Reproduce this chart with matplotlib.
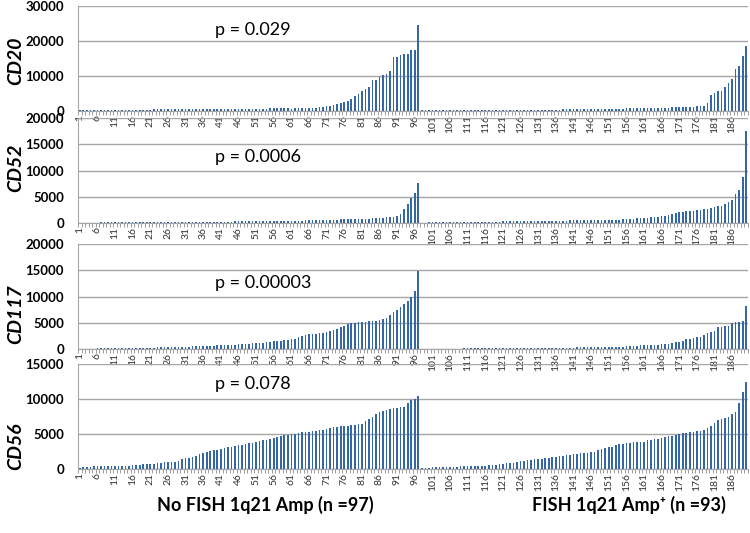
import numpy as np
import matplotlib
matplotlib.use("Agg")
import matplotlib.pyplot as plt

plt.rcParams['font.family'] = ['Lato', 'DejaVu Sans']

# tick labels shown on the category axis
tick_labels = [str(i) for i in range(1, 190, 5)]

# CD20
cd20_no = [250, 260, 270, 280, 290, 300, 300, 310, 320, 330,
           340, 350, 350, 360, 370, 380, 390, 400, 400, 410,
           420, 430, 440, 450, 450, 460, 470, 480, 490, 500,
           500, 510, 520, 530, 540, 550, 560, 570, 580, 590,
           600, 610, 620, 630, 640, 650, 660, 670, 680, 690,
           700, 700, 710, 710, 720, 720, 730, 730, 740, 750,
           700, 720, 750, 780, 820, 870, 920, 1000, 1100, 1200,
           1400, 1550, 1750, 2000, 2250, 2700, 3000, 3500, 4150, 4900,
           5600, 6300, 6900, 8800, 9000, 9800, 10400, 10700, 11400, 15300,
           15400, 16000, 16200, 16400, 17300, 17500, 24500]
cd20_amp = [200, 200, 210, 210, 220, 220, 230, 230, 240, 240,
            250, 250, 260, 260, 270, 270, 280, 280, 290, 290,
            300, 300, 310, 310, 320, 320, 330, 330, 340, 340,
            350, 350, 360, 360, 370, 380, 390, 400, 410, 420,
            430, 440, 450, 460, 470, 480, 490, 500, 520, 540,
            560, 580, 600, 620, 640, 660, 680, 700, 720, 740,
            760, 780, 800, 820, 840, 860, 880, 900, 930, 960,
            1000, 1020, 1050, 1080, 1100, 1150, 1200, 1250, 1350, 1400,
            1450, 2200, 4600, 5100, 5600, 5600, 7000, 8000, 9200, 12000,
            12800, 15700, 18600]

# CD52
cd52_no = [60, 70, 80, 80, 90, 90, 100, 100, 110, 110,
           120, 120, 130, 130, 140, 140, 150, 150, 160, 160,
           170, 170, 180, 180, 190, 190, 200, 200, 210, 210,
           220, 220, 230, 230, 240, 240, 250, 250, 260, 260,
           270, 270, 280, 280, 290, 290, 300, 300, 310, 320,
           330, 340, 350, 360, 370, 380, 390, 400, 410, 420,
           430, 440, 450, 460, 480, 500, 520, 540, 560, 580,
           600, 620, 640, 660, 680, 700, 720, 740, 760, 780,
           800, 820, 850, 880, 900, 950, 1000, 1050, 1100, 1200,
           1350, 1800, 2700, 3600, 4700, 5800, 7600]
cd52_amp = [80, 90, 100, 100, 110, 120, 120, 130, 140, 150,
            160, 170, 180, 190, 200, 210, 220, 230, 240, 250,
            260, 270, 280, 290, 300, 310, 320, 330, 340, 350,
            360, 370, 380, 390, 400, 410, 420, 430, 440, 450,
            460, 470, 480, 490, 500, 500, 510, 510, 520, 520,
            530, 540, 550, 570, 590, 620, 640, 700, 760, 790,
            820, 890, 950, 980, 1010, 1070, 1140, 1200, 1250, 1270,
            1460, 1780, 1970, 2050, 2150, 2200, 2280, 2350, 2400, 2540,
            2600, 2730, 2900, 3040, 3170, 3200, 3680, 4000, 4300, 5580,
            6200, 8750, 17500]

# CD117
cd117_no = [50, 60, 70, 80, 90, 100, 110, 120, 130, 140,
            150, 160, 170, 180, 190, 200, 210, 220, 230, 240,
            250, 270, 290, 310, 330, 350, 370, 390, 410, 430,
            450, 470, 490, 510, 530, 560, 590, 620, 650, 680,
            710, 740, 770, 800, 830, 870, 910, 950, 1000, 1050,
            1100, 1150, 1200, 1280, 1360, 1440, 1520, 1600, 1700, 1800,
            1900, 2000, 2200, 2400, 2600, 2800, 2850, 2900, 3000, 3100,
            3300, 3500, 3700, 3900, 4100, 4400, 4700, 4900, 5000, 5100,
            5150, 5200, 5250, 5300, 5400, 5500, 5700, 6000, 6400, 7000,
            7500, 8000, 8500, 9200, 10000, 11000, 14800]
cd117_amp = [40, 40, 50, 50, 60, 60, 70, 70, 80, 80,
             90, 90, 100, 100, 110, 110, 120, 120, 130, 130,
             140, 140, 150, 150, 160, 160, 170, 170, 180, 180,
             190, 190, 200, 200, 210, 210, 220, 220, 230, 240,
             250, 260, 270, 280, 290, 300, 300, 310, 310, 320,
             320, 330, 340, 360, 380, 400, 440, 460, 560, 600,
             630, 650, 680, 700, 730, 760, 790, 820, 880, 950,
             1010, 1140, 1270, 1330, 1460, 1900, 2000, 2090, 2220, 2280,
             2730, 3040, 3230, 3360, 4120, 4180, 4310, 4440, 5000, 5070,
             5070, 5260, 8100]

# CD56
cd56_no = [200, 300, 330, 350, 370, 380, 400, 420, 430, 440,
           450, 460, 470, 480, 500, 550, 600, 620, 650, 700,
           720, 750, 800, 900, 950, 1000, 1020, 1050, 1100, 1500,
           1550, 1600, 1700, 1800, 2100, 2300, 2500, 2600, 2700, 2750,
           2800, 2950, 3100, 3200, 3300, 3400, 3500, 3600, 3650, 3700,
           3900, 4000, 4100, 4200, 4350, 4450, 4550, 4650, 4800, 4900,
           4950, 5000, 5100, 5250, 5300, 5350, 5400, 5500, 5550, 5600,
           5700, 5900, 6000, 6050, 6100, 6150, 6200, 6250, 6300, 6400,
           6500, 6900, 7100, 7400, 7800, 8100, 8300, 8500, 8600, 8700,
           8700, 8800, 8900, 9500, 9800, 10000, 10400]
cd56_amp = [150, 180, 200, 220, 240, 260, 280, 300, 310, 320,
            340, 360, 380, 400, 420, 440, 460, 480, 500, 520,
            560, 600, 700, 750, 800, 850, 900, 1000, 1100, 1200,
            1300, 1350, 1400, 1450, 1500, 1550, 1600, 1700, 1750, 1800,
            1850, 1950, 2000, 2100, 2200, 2250, 2300, 2350, 2400, 2450,
            2700, 2800, 2950, 3100, 3200, 3450, 3550, 3600, 3650, 3700,
            3800, 3850, 3900, 3900, 4100, 4200, 4250, 4300, 4400, 4600,
            4700, 4750, 4850, 5000, 5100, 5200, 5300, 5350, 5450, 5500,
            5550, 5800, 6100, 6600, 7000, 7100, 7300, 7500, 7900, 8100,
            9400, 11000, 12500]

markers = ["CD20", "CD52", "CD117", "CD56"]
p_values = ["p = 0.029", "p = 0.0006", "p = 0.00003", "p = 0.078"]
group_labels = ["No FISH 1q21 Amp (n =97)", "FISH 1q21 Amp\u207a (n =93)"]

series = [cd20_no + cd20_amp, cd52_no + cd52_amp,
          cd117_no + cd117_amp, cd56_no + cd56_amp]
y_max = [30000, 20000, 20000, 15000]
y_step = [10000, 5000, 5000, 5000]
# panel top / bottom in pixels from the top of the image
panel_px = [(6, 111), (118, 223), (244, 349), (364, 469)]
label_y = [61, 168, 314, 446]
p_y = [30, 157, 283, 384]

W, H = 750, 533
fig = plt.figure(figsize=(7.5, 5.33), dpi=100)

bar_color = "#3567a5"
grid_color = "#a6a6a6"

for k in range(4):
    top, bot = panel_px[k]
    ax = fig.add_axes([78 / W, 1 - bot / H, 670 / W, (bot - top) / H])
    ax.set_facecolor("none")
    vals = series[k]
    x = np.arange(len(vals))
    ax.bar(x, vals, width=0.45, color=bar_color, zorder=3)
    ax.set_xlim(-0.5, len(vals) - 0.5)
    ax.set_ylim(0, y_max[k])
    ax.set_yticks(np.arange(0, y_max[k] + 1, y_step[k]))
    ax.yaxis.grid(True, color=grid_color, lw=1.0, zorder=0)
    ax.tick_params(axis="y", length=0, pad=10, labelsize=9.5)
    for t in ax.get_yticklabels():
        t.set_fontweight("bold")
    ax.set_xticks(np.arange(0, len(vals), 5))
    ax.set_xticklabels(tick_labels, rotation=90, fontsize=7.5, color="#333333")
    ax.set_xticks(np.arange(-0.5, len(vals), 1), minor=True)
    ax.tick_params(axis="x", which="major", length=0, pad=3)
    ax.tick_params(axis="x", which="minor", length=3, color="#8c8c8c", width=0.6)
    for s in ["top", "right"]:
        ax.spines[s].set_visible(False)
    ax.spines["left"].set_color(grid_color)
    ax.spines["bottom"].set_color(grid_color)

    fig.text(16 / W, 1 - label_y[k] / H, markers[k], rotation=90,
             ha="center", va="center", fontsize=14, fontweight="bold",
             fontstyle="italic")
    fig.text(215 / W, 1 - p_y[k] / H, p_values[k], ha="left", va="center",
             fontsize=13)

fig.text(265 / W, 1 - 505 / H, group_labels[0], ha="center", va="center",
         fontsize=13, fontweight="bold")
fig.text(629 / W, 1 - 505 / H, group_labels[1], ha="center", va="center",
         fontsize=13, fontweight="bold")

fig.savefig("out.png", dpi=100)
